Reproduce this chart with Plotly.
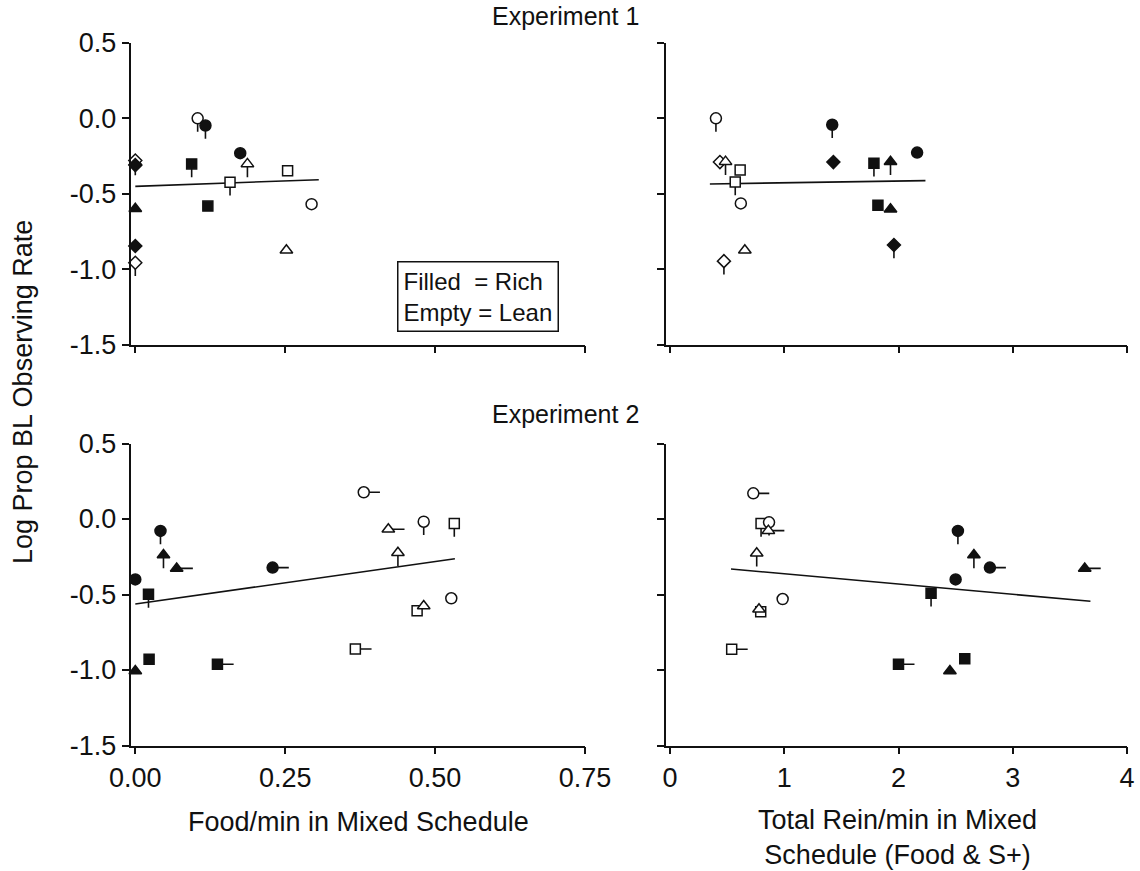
import plotly.graph_objects as go

# ---------------- DATA ----------------
# Experiment 1, Food/min in mixed schedule
e1_food_x = [0.104, 0.117, 0.175, 0.187, 0.094, 0.254, 0.158, 0.121, 0.294, 0.252, 0.000, 0.000, 0.000, 0.000, 0.000, 0.000]
e1_food_y = [0.00, -0.047, -0.231, -0.302, -0.302, -0.347, -0.424, -0.582, -0.569, -0.875, -0.29, -0.28, -0.31, -0.60, -0.847, -0.958]
e1_food_shape = ["circle", "circle", "circle", "triangle-up", "square", "square", "square", "square", "circle", "triangle-up",
                 "triangle-up", "diamond", "diamond", "triangle-up", "diamond", "diamond"]
e1_food_fill = ["E", "F", "F", "E", "F", "E", "E", "F", "E", "E", "F", "E", "F", "F", "F", "E"]
e1_food_tail = ["d", "d", "", "d", "d", "", "d", "", "", "", "d", "", "", "", "", "d"]
e1_food_fit_x = [0.0, 0.306]
e1_food_fit_y = [-0.451, -0.407]

# Experiment 1, Total reinforcers/min
e1_tot_x = [0.402, 1.42, 2.163, 0.437, 0.486, 1.43, 1.785, 1.93, 0.614, 0.571, 0.62, 1.82, 1.93, 1.96, 0.655, 0.472]
e1_tot_y = [0.00, -0.042, -0.227, -0.29, -0.287, -0.29, -0.298, -0.287, -0.342, -0.422, -0.564, -0.576, -0.602, -0.84, -0.875, -0.947]
e1_tot_shape = ["circle", "circle", "circle", "diamond", "triangle-up", "diamond", "square", "triangle-up", "square", "square",
                "circle", "square", "triangle-up", "diamond", "triangle-up", "diamond"]
e1_tot_fill = ["E", "F", "F", "E", "E", "F", "F", "F", "E", "E", "E", "F", "F", "F", "E", "E"]
e1_tot_tail = ["d", "d", "", "", "d", "", "d", "d", "", "d", "", "", "", "d", "", "d"]
e1_tot_fit_x = [0.349, 2.236]
e1_tot_fit_y = [-0.435, -0.413]

# Experiment 2, Food/min in mixed schedule
e2_food_x = [0.042, 0.047, 0.069, 0.229, 0.000, 0.022, 0.023, 0.000, 0.137,
             0.367, 0.381, 0.422, 0.481, 0.532, 0.438, 0.527, 0.481, 0.470]
e2_food_y = [-0.079, -0.238, -0.327, -0.322, -0.40, -0.499, -0.929, -1.007, -0.962,
             -0.861, 0.177, -0.068, -0.018, -0.029, -0.223, -0.525, -0.576, -0.607]
e2_food_shape = ["circle", "triangle-up", "triangle-up", "circle", "circle", "square", "square", "triangle-up", "square",
                 "square", "circle", "triangle-up", "circle", "square", "triangle-up", "circle", "triangle-up", "square"]
e2_food_fill = ["F", "F", "F", "F", "F", "F", "F", "F", "F", "E", "E", "E", "E", "E", "E", "E", "E", "E"]
e2_food_tail = ["d", "d", "r", "r", "", "d", "", "", "r", "r", "r", "r", "d", "d", "d", "", "", ""]
e2_food_fit_x = [0.0, 0.533]
e2_food_fit_y = [-0.563, -0.263]

# Experiment 2, Total reinforcers/min
e2_tot_x = [2.52, 2.66, 3.63, 2.80, 2.50, 2.285, 2.58, 2.45, 2.00,
            0.54, 0.729, 0.861, 0.867, 0.797, 0.759, 0.986, 0.779, 0.794]
e2_tot_y = [-0.079, -0.238, -0.327, -0.322, -0.40, -0.492, -0.925, -1.007, -0.962,
            -0.863, 0.170, -0.077, -0.022, -0.029, -0.227, -0.530, -0.598, -0.614]
e2_tot_shape = ["circle", "triangle-up", "triangle-up", "circle", "circle", "square", "square", "triangle-up", "square",
                "square", "circle", "triangle-up", "circle", "square", "triangle-up", "circle", "triangle-up", "square"]
e2_tot_fill = ["F", "F", "F", "F", "F", "F", "F", "F", "F", "E", "E", "E", "E", "E", "E", "E", "E", "E"]
e2_tot_tail = ["d", "d", "r", "r", "", "d", "", "", "r", "r", "r", "r", "d", "d", "d", "", "", ""]
e2_tot_fit_x = [0.534, 3.68]
e2_tot_fit_y = [-0.331, -0.545]

y_tickvals = [0.5, 0.0, -0.5, -1.0, -1.5]
y_ticktext = ["0.5", "0.0", "-0.5", "-1.0", "-1.5"]
food_tickvals = [0.0, 0.25, 0.5, 0.75]
food_ticktext = ["0.00", "0.25", "0.50", "0.75"]
tot_tickvals = [0, 1, 2, 3, 4]
tot_ticktext = ["0", "1", "2", "3", "4"]

# ---------------- STYLE ----------------
W, H = 1140, 871
FONT = "Liberation Sans, Arial, Helvetica, sans-serif"
INK = "#111111"
SIZES = {"circle": 11, "square": 10, "triangle-up": 11, "diamond": 10}


def px_x(p):
    return p / W


def px_y(p):
    return 1 - p / H


fig = go.Figure()

panels = [
    (e1_food_x, e1_food_y, e1_food_shape, e1_food_fill, e1_food_tail, e1_food_fit_x, e1_food_fit_y, "", 0.027),
    (e1_tot_x, e1_tot_y, e1_tot_shape, e1_tot_fill, e1_tot_tail, e1_tot_fit_x, e1_tot_fit_y, "2", 0.14),
    (e2_food_x, e2_food_y, e2_food_shape, e2_food_fill, e2_food_tail, e2_food_fit_x, e2_food_fit_y, "3", 0.027),
    (e2_tot_x, e2_tot_y, e2_tot_shape, e2_tot_fill, e2_tot_tail, e2_tot_fit_x, e2_tot_fit_y, "4", 0.14),
]

TAIL_Y = 0.088

for xs, ys, shapes, fills, tails, fx, fy, sfx, tlx in panels:
    xa, ya = "x" + sfx, "y" + sfx
    fig.add_trace(go.Scatter(x=fx, y=fy, mode="lines", line=dict(color=INK, width=1.6),
                             xaxis=xa, yaxis=ya, showlegend=False, hoverinfo="skip"))
    order = []
    for i in range(len(xs)):
        key = (fills[i], shapes[i])
        if key not in order:
            order.append(key)
    for key in order:
        idx = [i for i in range(len(xs)) if (fills[i], shapes[i]) == key]
        fill, shape = key
        gx = [xs[i] for i in idx]
        gy = [ys[i] for i in idx]
        ey_minus = [TAIL_Y if tails[i] == "d" else 0 for i in idx]
        ex_plus = [tlx if tails[i] == "r" else 0 for i in idx]
        fig.add_trace(go.Scatter(
            x=gx, y=gy, mode="markers",
            marker=dict(symbol=shape, size=SIZES[shape],
                        color=INK if fill == "F" else "white",
                        line=dict(color=INK, width=1.5)),
            error_y=dict(type="data", symmetric=False, array=[0] * len(idx), arrayminus=ey_minus,
                         color=INK, thickness=1.6, width=0),
            error_x=dict(type="data", symmetric=False, array=ex_plus, arrayminus=[0] * len(idx),
                         color=INK, thickness=1.6, width=0),
            xaxis=xa, yaxis=ya, showlegend=False, cliponaxis=False))

left_dom = [px_x(130.5), px_x(585)]
right_dom = [px_x(666), px_x(1127)]
top_dom = [px_y(344.5), px_y(43)]
bot_dom = [px_y(745.5), px_y(443.5)]

axis_common = dict(showline=True, linecolor=INK, linewidth=1.6, ticks="outside", ticklen=7,
                   tickwidth=1.5, tickcolor=INK, showgrid=False, zeroline=False, automargin=False,
                   tickfont=dict(family=FONT, size=27, color=INK))

fig.update_layout(
    width=W, height=H, margin=dict(l=0, r=0, t=0, b=0, pad=0, autoexpand=False),
    plot_bgcolor="white", paper_bgcolor="white", showlegend=False,
    font=dict(family=FONT, color=INK),
    xaxis=dict(domain=left_dom, anchor="y", range=[-0.008, 0.75], tickvals=food_tickvals,
               showticklabels=False, **axis_common),
    yaxis=dict(domain=top_dom, anchor="x", range=[-1.5, 0.5], tickvals=y_tickvals, ticktext=y_ticktext,
               **axis_common),
    xaxis2=dict(domain=right_dom, anchor="y2", range=[-0.035, 4], tickvals=tot_tickvals,
                showticklabels=False, **axis_common),
    yaxis2=dict(domain=top_dom, anchor="x2", range=[-1.5, 0.5], tickvals=y_tickvals,
                showticklabels=False, **axis_common),
    xaxis3=dict(domain=left_dom, anchor="y3", range=[-0.008, 0.75], tickvals=food_tickvals,
                ticktext=food_ticktext, **axis_common),
    yaxis3=dict(domain=bot_dom, anchor="x3", range=[-1.5, 0.5], tickvals=y_tickvals, ticktext=y_ticktext,
                **axis_common),
    xaxis4=dict(domain=right_dom, anchor="y4", range=[-0.035, 4], tickvals=tot_tickvals,
                ticktext=tot_ticktext, **axis_common),
    yaxis4=dict(domain=bot_dom, anchor="x4", range=[-1.5, 0.5], tickvals=y_tickvals,
                showticklabels=False, **axis_common),
)

title_font = dict(family=FONT, size=25, color=INK)
label_font = dict(family=FONT, size=27, color=INK)
annotations = [
    dict(text="Experiment 1", x=px_x(565), y=px_y(16), font=title_font),
    dict(text="Experiment 2", x=px_x(565), y=px_y(414), font=title_font),
    dict(text="Log Prop BL Observing Rate", x=px_x(23), y=px_y(392), textangle=-90, font=label_font),
    dict(text="Food/min in Mixed Schedule", x=px_x(358), y=px_y(822), font=label_font),
    dict(text="Total Rein/min in Mixed<br>Schedule (Food &amp; S+)", x=px_x(897), y=px_y(837), font=label_font),
]
for a in annotations:
    a.update(xref="paper", yref="paper", showarrow=False, xanchor="center", yanchor="middle")
    fig.add_annotation(**a)

fig.add_annotation(text="Filled\u00a0 = Rich<br>Empty = Lean", xref="paper", yref="paper",
                   x=px_x(477.5), y=px_y(297), xanchor="center", yanchor="middle", showarrow=False,
                   align="left", font=dict(family=FONT, size=24, color=INK),
                   bordercolor=INK, borderwidth=1.5, borderpad=5, bgcolor="white")

fig.write_html("out.html")
